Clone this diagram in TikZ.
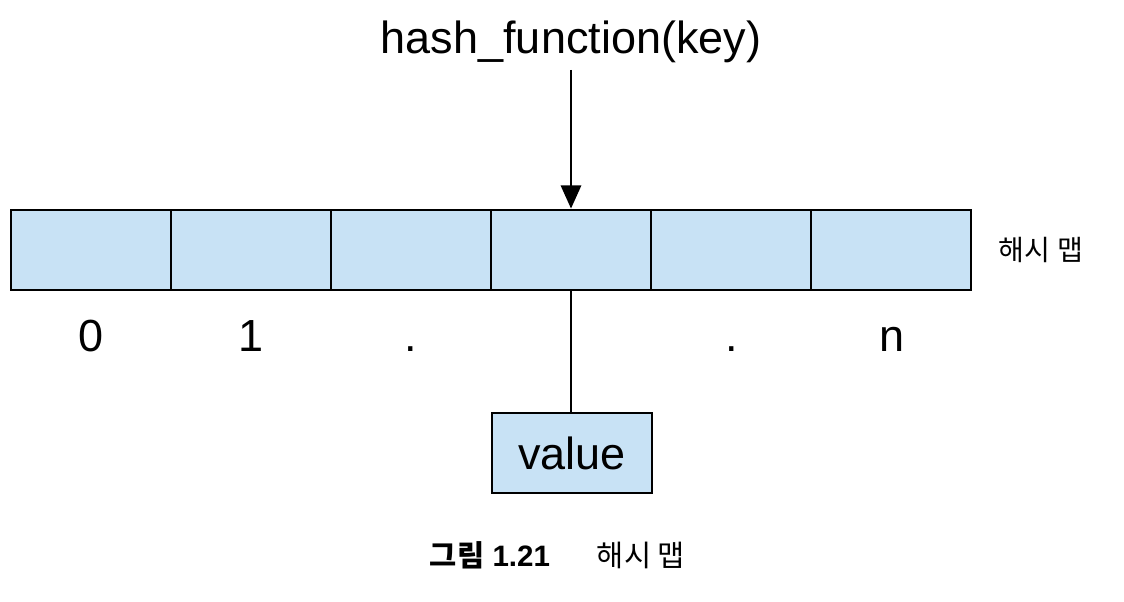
\documentclass[tikz,border=0pt]{standalone}
\usepackage{fontspec}
\setmainfont{Liberation Sans}
\newfontfamily\korfont{Noto Sans CJK KR}
\usetikzlibrary{arrows.meta,positioning}
\definecolor{CellClr}{RGB}{200,226,245}

\begin{document}
\begin{tikzpicture}[x=0.025cm,y=-0.025cm,
  cell/.style={draw=black,fill=CellClr,line width=1.9pt,minimum width=4cm,minimum height=2cm,inner sep=0pt},
  idx/.style={font=\fontsize{32}{38}\selectfont,anchor=base},
  link/.style={line width=2.1pt}]
\useasboundingbox (0,0) rectangle (1124,602);

% table of six buckets
\foreach \i in {0,...,5}
  \node[cell] (c\i) at ({91+160*\i},250) {};

\node[font=\fontsize{32}{38}\selectfont] (hf) at (571,42) {hash\_function(key)};
\node[cell,minimum height=2cm] (val) at (572,453) {};
\node[font=\fontsize{32}{38}\selectfont] at (val.center) {value};

\node[font=\korfont\fontsize{20}{24}\selectfont,anchor=west] (lbl) at (994,250) {해시 맵};

% indices under the buckets
\node[idx] (i0) at (91,352) {0};
\node[idx] (i1) at (251,352) {1};
\node[idx] (i2) at (411,352) {.};
\node[idx] (i4) at (732,352) {.};
\node[idx] (i5) at (892,352) {n};

\coordinate (top) at (571,70);
\draw[link,-{Triangle[length=0.58cm,width=0.5cm]}] (top) -- (top |- c3.north);
\draw[link] (top |- c3.south) -- (top |- val.north);

% caption
\node[font=\fontsize{21}{25}\selectfont,anchor=base] (cap) at (490,566) {{\korfont\bfseries 그림} \textbf{1.21}};
\node[font=\korfont\fontsize{21}{25}\selectfont,anchor=base] (capt) at (641,566) {해시 맵};
\end{tikzpicture}
\end{document}
